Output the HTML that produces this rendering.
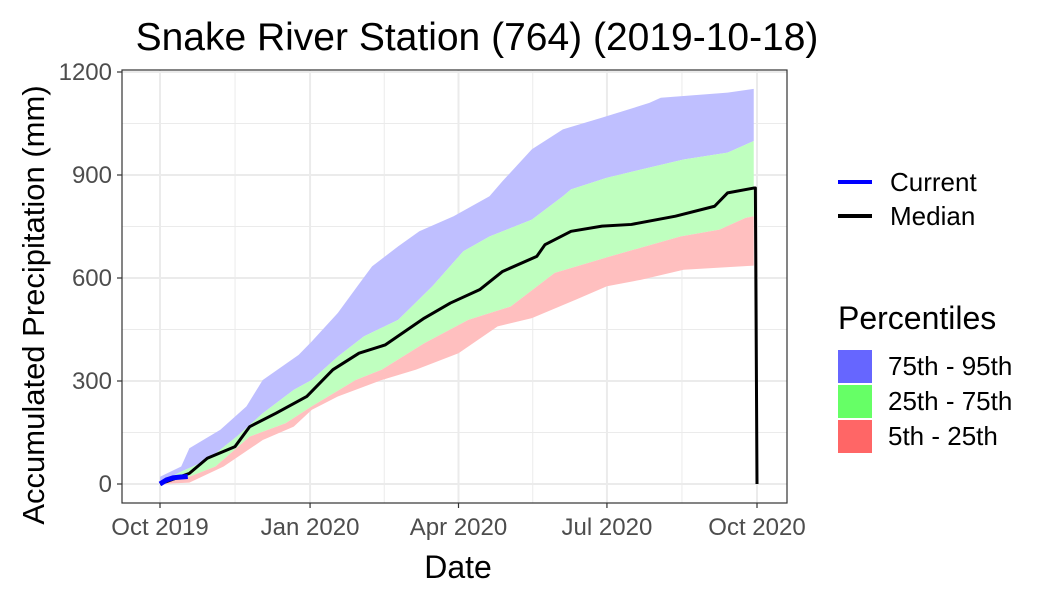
<!DOCTYPE html>
<html><head><meta charset="utf-8"><style>
body{margin:0;background:#fff;font-family:"Liberation Sans",sans-serif}
</style></head><body>
<svg id="c" width="1050" height="600" xmlns="http://www.w3.org/2000/svg" font-family="Liberation Sans, sans-serif">
<text x="477" y="50" font-size="39" text-anchor="middle">Snake River Station (764) (2019-10-18)</text>
<rect x="122" y="70" width="665" height="433" fill="#fff"/>
<g id="grid"></g><g id="bands"></g><g id="lines"></g>
<rect x="122" y="70" width="665" height="433" fill="none" stroke="#333" stroke-width="1.2"/>
<g id="axes"></g>
<text x="458" y="578" font-size="32" text-anchor="middle">Date</text>
<text transform="translate(44,305) rotate(-90)" font-size="31" text-anchor="middle">Accumulated Precipitation (mm)</text>
<g>
<line x1="838" y1="182" x2="872" y2="182" stroke="#00f" stroke-width="4"/>
<text x="890" y="191" font-size="26">Current</text>
<line x1="838" y1="216" x2="872" y2="216" stroke="#000" stroke-width="4"/>
<text x="890" y="225" font-size="26">Median</text>
<text x="838" y="329" font-size="32">Percentiles</text>
<rect x="838" y="350" width="34" height="33" fill="#6666ff"/>
<text x="888" y="375" font-size="26">75th - 95th</text>
<rect x="838" y="385" width="34" height="33" fill="#66ff66"/>
<text x="888" y="410" font-size="26">25th - 75th</text>
<rect x="838" y="420" width="34" height="33" fill="#ff6666"/>
<text x="888" y="445" font-size="26">5th - 25th</text>
</g>
</svg>
<script>
const xTickLabels=["Oct 2019","Jan 2020","Apr 2020","Jul 2020","Oct 2020"];
const xTickDays=[0,92,183,274,366];
const yTicks=[0,300,600,900,1200];
const medDays=[0,18,29,46,55,71,90,106,122,138,162,178,196,210,231,236,252,271,289,316,340,348,364];
const medVals=[0,31,75,109,167,206,255,333,381,405,483,527,566,619,663,697,736,751,756,780,809,848,862];
const p95Days=[0,13,18,37,53,63,85,93,109,121,130,146,159,180,202,210,228,247,271,300,307,348,364];
const p95Vals=[21,51,104,158,226,303,376,415,498,576,634,692,736,780,838,882,975,1033,1067,1110,1125,1140,1151];
const p75Days=[0,13,29,47,63,82,93,109,125,146,167,186,202,228,247,252,274,295,321,348,364];
const p75Vals=[4,36,70,138,206,274,303,371,430,478,576,678,721,770,838,858,892,916,945,965,999];
const p25Days=[0,18,34,55,77,93,120,136,162,189,215,242,276,319,343,359,364];
const p25Vals=[0,21,51,138,177,226,303,333,410,478,517,615,663,721,741,775,780];
const p5Days=[0,18,39,63,82,93,109,136,157,183,207,228,255,274,295,321,364];
const p5Vals=[0,4,51,128,167,216,255,303,333,381,459,483,537,576,595,624,636];
const curDays=[0,4,8,12,17];
const curVals=[0,12,18,20,22];
const NS="http://www.w3.org/2000/svg";
const X=d=>160+d*(757-160)/366, Y=v=>484-v*(484-72)/1200;
function mk(t,a,p){const e=document.createElementNS(NS,t);for(const k in a)e.setAttribute(k,a[k]);p.appendChild(e);return e;}
const grid=document.getElementById('grid'),axes=document.getElementById('axes');
for(let i=0;i<yTicks.length;i++){
 const y=Y(yTicks[i]);
 const g=mk('line',{x1:122,x2:787,y1:y,y2:y,stroke:'#ebebeb','stroke-width':2},grid);
 
 if(i<yTicks.length-1){const ym=Y((yTicks[i]+yTicks[i+1])/2);
  const m=mk('line',{x1:122,x2:787,y1:ym,y2:ym,stroke:'#ebebeb','stroke-width':1},grid);
  }
 const t=mk('line',{x1:117,x2:122,y1:y,y2:y,stroke:'#333','stroke-width':1.2},axes);
 
 const l=mk('text',{x:112,y:y+8,'font-size':24,'text-anchor':'end',fill:'#4d4d4d'},axes);l.textContent=yTicks[i];
 
}
for(let i=0;i<xTickDays.length;i++){
 const x=X(xTickDays[i]);
 const g=mk('line',{x1:x,x2:x,y1:70,y2:503,stroke:'#ebebeb','stroke-width':2},grid);
 
 if(i<xTickDays.length-1){const xm=X((xTickDays[i]+xTickDays[i+1])/2);
  const m=mk('line',{x1:xm,x2:xm,y1:70,y2:503,stroke:'#ebebeb','stroke-width':1},grid);
  }
 const t=mk('line',{x1:x,x2:x,y1:503,y2:508,stroke:'#333','stroke-width':1.2},axes);
 
 const l=mk('text',{x:x,y:535,'font-size':24,'text-anchor':'middle',fill:'#4d4d4d'},axes);l.textContent=xTickLabels[i];
 
}
const bands=document.getElementById('bands');
function band(d1,v1,d2,v2,fill,name){
 let pts=d1.map((d,i)=>X(d)+','+Y(v1[i]));
 for(let i=d2.length-1;i>=0;i--)pts.push(X(d2[i])+','+Y(v2[i]));
 const p=mk('polygon',{points:pts.join(' '),fill:fill},bands);
 
}
band(p95Days,p95Vals,p75Days,p75Vals,'#bfbfff','band-75-95');
band(p75Days,p75Vals,p25Days,p25Vals,'#bfffbf','band-25-75');
band(p25Days,p25Vals,p5Days,p5Vals,'#ffbfbf','band-5-25');
const lines=document.getElementById('lines');
let mp=medDays.map((d,i)=>X(d)+','+Y(medVals[i]));
mp.push(X(365)+','+Y(medVals[medVals.length-1]));mp.push(X(366)+','+Y(0));
const ml=mk('polyline',{points:mp.join(' '),fill:'none',stroke:'#000','stroke-width':3,'stroke-linejoin':'round'},lines);

const cl=mk('polyline',{points:curDays.map((d,i)=>X(d)+','+Y(curVals[i])).join(' '),fill:'none',stroke:'#00f','stroke-width':5},lines);

</script>
</body></html>
